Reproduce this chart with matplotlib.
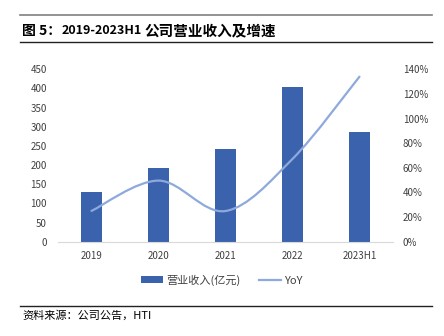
import matplotlib
matplotlib.use("Agg")
import matplotlib.pyplot as plt
from matplotlib.path import Path
from matplotlib.patches import PathPatch
from matplotlib.lines import Line2D
from matplotlib.patches import Patch
import numpy as np

plt.rcParams['font.family'] = ['Noto Sans CJK SC', 'DejaVu Sans']

years = ['2019', '2020', '2021', '2022', '2023H1']
revenue = [129, 193, 241, 403, 286]          # 亿元
yoy = [25, 49.6, 24.9, 67.2, 134]            # %

bar_color = '#3B62AD'
line_color = '#8EA9DB'
text_color = '#404040'

W, H = 444, 336
fig = plt.figure(figsize=(W / 100, H / 100), dpi=100)
ax = fig.add_axes([0.1306, 0.2807, 0.7545, 0.5131])
ax2 = ax.twinx()

x = np.arange(len(years))
ax.bar(x, revenue, width=0.31, color=bar_color, zorder=2)
ax.set_xlim(-0.5, len(years) - 0.5)
ax.set_ylim(0, 450)
ax.set_yticks(range(0, 451, 50))
ax.set_xticks(x)
ax.set_xticklabels(years)

ax2.set_ylim(0, 140)
ax2.set_yticks(range(0, 141, 20))
ax2.set_yticklabels([f'{v}%' for v in range(0, 141, 20)])

# smoothed line (Catmull-Rom as cubic bezier segments)
px = list(x.astype(float))
py = list(yoy)
ext_x = [px[0]] + px + [px[-1]]
ext_y = [py[0]] + py + [py[-1]]
verts = [(px[0], py[0])]
codes = [Path.MOVETO]
for i in range(1, len(ext_x) - 2):
    c1 = (ext_x[i] + (ext_x[i + 1] - ext_x[i - 1]) / 6, ext_y[i] + (ext_y[i + 1] - ext_y[i - 1]) / 6)
    c2 = (ext_x[i + 1] - (ext_x[i + 2] - ext_x[i]) / 6, ext_y[i + 1] - (ext_y[i + 2] - ext_y[i]) / 6)
    verts += [c1, c2, (ext_x[i + 1], ext_y[i + 1])]
    codes += [Path.CURVE4] * 3
ax2.add_patch(PathPatch(Path(verts, codes), facecolor='none', edgecolor=line_color,
                        lw=1.6, zorder=3, capstyle='round'))

for a in (ax, ax2):
    for s in a.spines.values():
        s.set_visible(False)
    a.tick_params(length=0, labelsize=7, colors=text_color)
ax.spines['bottom'].set_visible(True)
ax.spines['bottom'].set_color('#D9D9D9')
ax.spines['bottom'].set_linewidth(0.8)
ax.tick_params(axis='x', pad=7)
ax.tick_params(axis='y', pad=8)
ax2.tick_params(axis='y', pad=7)

handles = [Patch(facecolor=bar_color), Line2D([0], [0], color=line_color, lw=1.6)]
fig.legend(handles, ['营业收入(亿元)', 'YoY'], loc='center', bbox_to_anchor=(0.5, 1 - 280 / H),
           ncol=2, frameon=False, fontsize=8, handlelength=2.0, handleheight=0.55,
           columnspacing=1.6, handletextpad=0.3, labelcolor=text_color)

# header and footer rules
fig.add_artist(Line2D([20 / W, 432 / W], [1 - 15 / H] * 2, color='#808080', lw=1.2))
fig.add_artist(Line2D([20 / W, 432 / W], [1 - 42 / H] * 2, color='#222222', lw=1.0))
fig.add_artist(Line2D([20 / W, 432 / W], [1 - 305.5 / H] * 2, color='#222222', lw=1.0))

# title in three runs: label, period, description
ty = 1 - 30.5 / H
fig.text(22 / W, ty, '图 5：', fontsize=10, fontweight='bold', va='center', ha='left')
fig.text(62 / W, ty, '2019-2023H1', fontsize=9, fontweight='bold', va='center', ha='left')
fig.text(144 / W, ty, '公司营业收入及增速', fontsize=10.5, fontweight='bold', va='center', ha='left')

fig.text(22 / W, 1 - 315 / H, '资料来源：公司公告，HTI', fontsize=8,
         va='center', ha='left', color='black')

fig.savefig('out.png', dpi=100)
